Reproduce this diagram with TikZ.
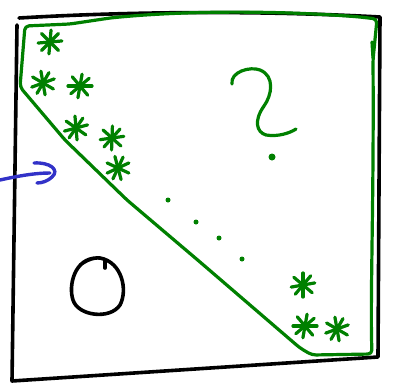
\documentclass[tikz,border=0pt]{standalone}
\usepackage{tikz}
\usetikzlibrary{calc}
\definecolor{sketchGreen}{RGB}{0,128,0}
\definecolor{sketchBlue}{RGB}{50,50,200}

\begin{document}
\begin{tikzpicture}[x=1pt,y=-1pt,
    frame/.style={draw=black,line width=3.6pt,line cap=round,line join=round},
    region/.style={draw=sketchGreen,line width=3.2pt,line cap=round,line join=round},
    star/.style={draw=sketchGreen,line width=3.2pt,line cap=round},
    speck/.style={fill=sketchGreen,circle,inner sep=0pt}]
    \useasboundingbox (0,0) rectangle (399,386);

    % Square
    \draw[frame] (19,18) .. controls (120,12) and (250,10) .. (380,17)
      -- (378,357) -- (12,381) -- (17,25);

    % Green region
    \draw[region,rounded corners=4pt] (25,26) -- (70,24) -- (110,18)
      .. controls (200,9) and (300,12) .. (360,17) -- (377,19)
      -- (373,60) .. controls (374,200) and (370,300) .. (372,354)
      -- (312,355) -- (300,348) -- (200,262) -- (127,200)
      -- (65,140) -- (20,87) -- cycle;
    \draw[region] (372,42) -- (373,58);

    % Stars
    \foreach \x/\y/\r in {50/42/5,43/83/20,80/86/0,76/128/15,
                          112/138/8,118/168/25,303/285/10,
                          305/326/0,337/329/20} {
      \begin{scope}[shift={(\x,\y)},rotate=\r]
        \foreach \a in {0,50,100,140} {
          \draw[star] (\a:12) -- (\a+180:12);
        }
      \end{scope}
    }

    % Dots
    \foreach \x/\y in {168/200,196/222,219/238,242/259} {
      \node[speck,minimum size=5pt] (d\x) at (\x,\y) {};
    }

    % Question mark
    \draw[region] (232,84) .. controls (230,72) and (250,66) .. (260,70)
      .. controls (275,76) and (272,95) .. (264,106)
      .. controls (254,120) and (256,132) .. (266,135)
      .. controls (278,137) and (290,133) .. (296,129);
    \node[speck,minimum size=7pt] (qdot) at (272,157) {};

    % Arrow
    \coordinate (arrowTail) at (0,180);
    \coordinate (arrowTip) at (50,173);
    \draw[draw=sketchBlue,line width=3.4pt,line cap=round]
      (arrowTail) .. controls (18,176) and (35,173) .. (arrowTip);
    \draw[draw=sketchBlue,line width=3.4pt,line cap=round]
      (34,163) .. controls (50,162) and (60,170) .. (52,177)
      .. controls (48,181) and (42,183) .. (37,183);

    % Zero
    \draw[frame] (97,258) .. controls (75,258) and (68,285) .. (73,300)
      .. controls (78,316) and (110,320) .. (120,305)
      .. controls (128,290) and (122,262) .. (100,258)
      .. controls (92,257) and (84,262) .. (80,265);
    \draw[frame] (105,261) -- (105,268);
\end{tikzpicture}
\end{document}
